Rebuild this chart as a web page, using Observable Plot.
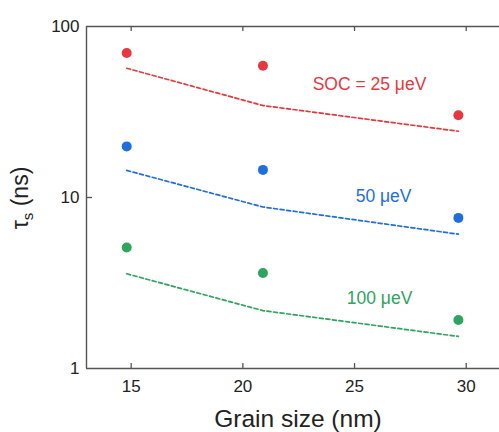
<!DOCTYPE html>
<html>
<head>
<meta charset="utf-8">
<script src="https://cdn.jsdelivr.net/npm/d3@7"></script>
<script src="https://cdn.jsdelivr.net/npm/@observablehq/plot@0.6"></script>
<style>
  html, body { margin: 0; padding: 0; background: #fff; }
  #chart svg { display: block; font-family: "Liberation Sans", Arial, sans-serif; }
</style>
</head>
<body>
<div id="chart"></div>
<script>
// Data
const grainSize = [14.8, 20.9, 29.65];
const series = ["SOC = 25 μeV", "50 μeV", "100 μeV"];
const colors = ["#e8383f", "#1e6fdd", "#2ca55e"];
const measured25 = [70, 59, 30.3];
const measured50 = [19.9, 14.5, 7.6];
const measured100 = [5.1, 3.62, 1.92];
const model25 = [57, 34.5, 24.4];
const model50 = [14.4, 8.8, 6.1];
const model100 = [3.58, 2.18, 1.54];
const labelX = [25.67, 26.3, 26.12];
const labelY = [45.8, 10.1, 2.57];
const xTicks = [15, 20, 25, 30];
const yTicks = [1, 10, 100];

const measured = [measured25, measured50, measured100];
const model = [model25, model50, model100];
const points = [], lines = [], labels = [];
series.forEach((s, i) => {
  grainSize.forEach((g, j) => {
    points.push({series: s, x: g, y: measured[i][j]});
    lines.push({series: s, x: g, y: model[i][j]});
  });
  labels.push({series: s, x: labelX[i], y: labelY[i]});
});

const W = 499, H = 432;
const mL = 86, mT = 26, mB = 64, mR = 0;
const frameH = H - mT - mB, frameW = W - mL - mR;
const axisColor = "#555";

const plot = Plot.plot({
  width: W, height: H,
  marginLeft: mL, marginRight: mR, marginTop: mT, marginBottom: mB,
  style: {fontFamily: "Liberation Sans, Arial, sans-serif", background: "#fff"},
  x: {domain: [13, 31.49], ticks: xTicks},
  y: {type: "log", domain: [1, 100], ticks: yTicks},
  color: {domain: series, range: colors},
  marks: [
    Plot.line(lines, {x: "x", y: "y", z: "series", stroke: "series", strokeWidth: 1.7, strokeDasharray: "4,2.6"}),
    Plot.dot(points, {x: "x", y: "y", fill: "series", r: 5}),
    Plot.text(labels, {x: "x", y: "y", text: "series", fill: "series", fontSize: 17.5, textAnchor: "middle", lineAnchor: "middle"}),
    // frame: left, top, bottom (right edge is outside the picture)
    Plot.ruleY([1, 100], {stroke: axisColor, strokeWidth: 1.4}),
    Plot.ruleX([13], {stroke: axisColor, strokeWidth: 1.4}),
    // inward ticks
    Plot.tickX(xTicks, {x: d => d, stroke: axisColor, strokeWidth: 1.3, insetTop: frameH - 5}),
    Plot.tickX(xTicks, {x: d => d, stroke: axisColor, strokeWidth: 1.3, insetBottom: frameH - 5}),
    Plot.tickY([10], {y: d => d, stroke: axisColor, strokeWidth: 1.3, insetRight: frameW - 6}),
    Plot.axisX({ticks: xTicks, tickSize: 0, tickPadding: 11, fontSize: 17, label: null, color: "#222"}),
    Plot.axisY({ticks: yTicks, tickSize: 0, tickPadding: 7, fontSize: 17, label: null, tickFormat: d => String(d), color: "#222"})
  ]
});

document.getElementById("chart").appendChild(plot);

// Axis titles
const svg = d3.select(plot);
svg.append("text")
  .attr("x", 298).attr("y", 427)
  .attr("text-anchor", "middle")
  .attr("font-size", 24.5)
  .attr("fill", "#222")
  .text("Grain size (nm)");

const yl = svg.append("text")
  .attr("transform", "translate(28,198) rotate(-90)")
  .attr("text-anchor", "middle")
  .attr("font-size", 23)
  .attr("fill", "#222");
yl.append("tspan").text("τ");
yl.append("tspan").attr("font-size", 15).attr("dy", 5).text("s");
yl.append("tspan").attr("dy", -5).text(" (ns)");
</script>
</body>
</html>
